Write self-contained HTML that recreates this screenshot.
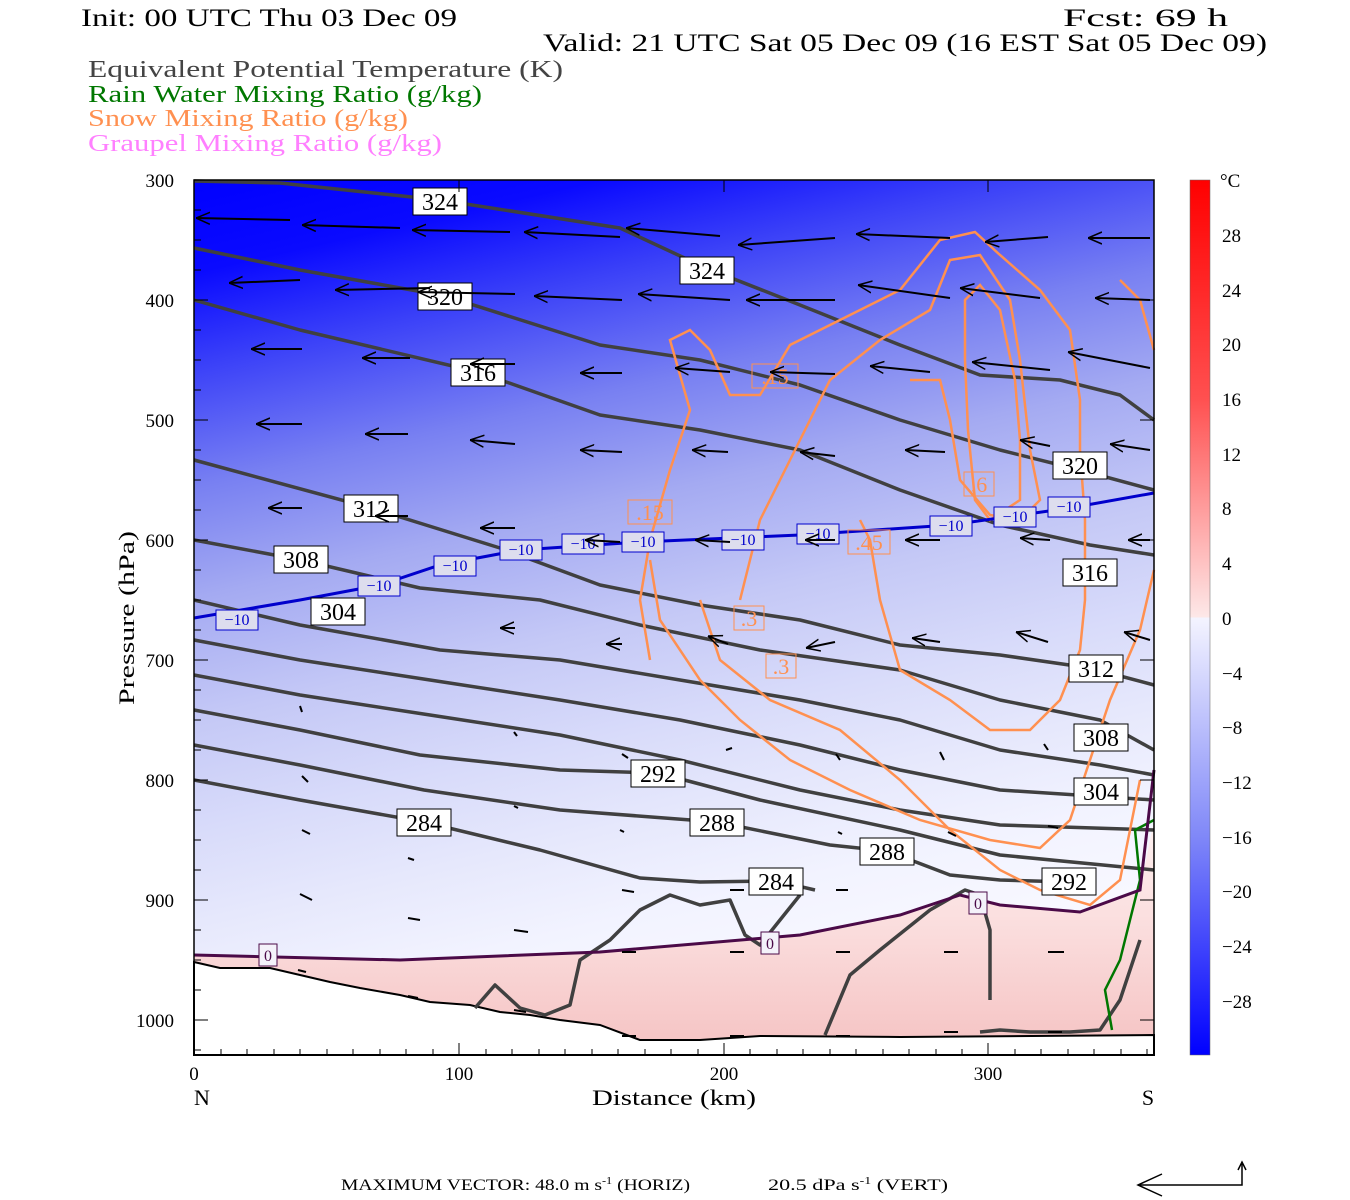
<!DOCTYPE html>
<html><head><meta charset="utf-8"><style>
body{margin:0;background:#fff;}
svg{display:block;}
text{font-family:"Liberation Serif",serif;}
</style></head><body>
<svg width="1350" height="1200" viewBox="0 0 1350 1200" xmlns="http://www.w3.org/2000/svg">
<defs>
<linearGradient id="bg" x1="0" y1="0" x2="0.25" y2="1">
<stop offset="0" stop-color="#0000ff"/>
<stop offset="0.1" stop-color="#0a0aff"/>
<stop offset="0.2" stop-color="#3a40f8"/>
<stop offset="0.33" stop-color="#7880f2"/>
<stop offset="0.45" stop-color="#a4aaf2"/>
<stop offset="0.58" stop-color="#c4c8f6"/>
<stop offset="0.7" stop-color="#d8dbfa"/>
<stop offset="0.8" stop-color="#e6e8fc"/>
<stop offset="0.9" stop-color="#f2f3ff"/>
<stop offset="1" stop-color="#f8f8ff"/>
</linearGradient>
<linearGradient id="pk" x1="0" y1="0" x2="0" y2="1">
<stop offset="0" stop-color="#fdf0f0"/>
<stop offset="0.4" stop-color="#fbe0e0"/>
<stop offset="1" stop-color="#f5c2c2"/>
</linearGradient>
<linearGradient id="cb" x1="0" y1="0" x2="0" y2="1">
<stop offset="0" stop-color="#ff0000"/>
<stop offset="0.25" stop-color="#ff5050"/>
<stop offset="0.5" stop-color="#fde8e8"/>
<stop offset="0.5" stop-color="#f4f4ff"/>
<stop offset="0.75" stop-color="#8088f8"/>
<stop offset="1" stop-color="#0000ff"/>
</linearGradient>
<marker id="ah" markerWidth="14" markerHeight="14" refX="0" refY="7" orient="auto" markerUnits="userSpaceOnUse"><path d="M14,1 L0,7 L14,13" fill="none" stroke="#000" stroke-width="1.5"/></marker>
</defs>

<!-- header -->
<text x="81" y="26" font-size="25" fill="#000" textLength="376" lengthAdjust="spacingAndGlyphs">Init: 00 UTC Thu 03 Dec 09</text>
<text x="1063" y="26" font-size="25" fill="#000" textLength="165" lengthAdjust="spacingAndGlyphs">Fcst:   69 h</text>
<text x="543" y="51" font-size="25" fill="#000" textLength="724" lengthAdjust="spacingAndGlyphs">Valid: 21 UTC Sat 05 Dec 09 (16 EST Sat 05 Dec 09)</text>
<text x="88" y="77" font-size="24" fill="#444" textLength="475" lengthAdjust="spacingAndGlyphs">Equivalent Potential Temperature (K)</text>
<text x="88" y="102" font-size="24" fill="#007700" textLength="394" lengthAdjust="spacingAndGlyphs">Rain Water Mixing Ratio (g/kg)</text>
<text x="88" y="126" font-size="24" fill="#ff9050" textLength="320" lengthAdjust="spacingAndGlyphs">Snow Mixing Ratio (g/kg)</text>
<text x="88" y="151" font-size="24" fill="#ff80ff" textLength="354" lengthAdjust="spacingAndGlyphs">Graupel Mixing Ratio (g/kg)</text>

<!-- plot background -->
<rect x="194" y="180" width="960" height="875" fill="url(#bg)"/>
<path d="M194,955 L400,960 L600,952 L800,935 L900,915 L960,895 L1000,905 L1080,912 L1140,890 L1154,820 L1154,1055 L194,1055 Z" fill="url(#pk)"/>
<!-- terrain -->
<path d="M194,962 L220,968 L270,968 L300,975 L330,982 L360,988 L400,995 L430,1002 L470,1005 L500,1012 L530,1015 L560,1020 L600,1025 L640,1040 L700,1040 L760,1036 L900,1037 L1154,1035 L1154,1055 L194,1055 Z" fill="#fff" stroke="#000" stroke-width="2"/>

<g fill="none" stroke="#404040" stroke-width="3.5" stroke-linejoin="round">
<path d="M194,181 L280,183 L440,200 L620,228 L706,268 L800,305 L900,345 L980,375 L1060,380 L1120,395 L1154,420"/>
<path d="M194,248 L300,270 L445,296 L600,345 L700,360 L800,385 L900,420 L1000,450 L1080,470 L1154,490"/>
<path d="M194,300 L300,330 L478,372 L600,415 L700,430 L800,450 L900,490 L1000,525 L1090,545 L1154,555"/>
<path d="M194,460 L371,508 L500,548 L600,585 L700,605 L800,620 L900,645 L1000,655 L1090,668 L1154,685"/>
<path d="M194,540 L301,560 L420,588 L540,600 L640,625 L760,650 L900,670 L1000,700 L1100,720 L1154,750"/>
<path d="M194,600 L300,625 L440,650 L560,660 L680,680 L800,700 L900,720 L1000,750 L1100,765 L1154,775"/>
<path d="M194,640 L300,660 L430,680 L560,700 L680,720 L800,745 L900,770 L1000,790 L1154,800"/>
<path d="M194,675 L300,695 L430,715 L560,735 L680,760 L800,790 L900,810 L1000,825 L1154,830"/>
<path d="M194,710 L300,730 L420,755 L560,770 L658,773 L760,800 L900,830 L1000,855 L1154,870"/>
<path d="M194,745 L300,765 L424,790 L560,810 L717,822 L830,845 L887,851 L950,875 L1000,880 L1070,882"/>
<path d="M194,780 L300,800 L424,822 L540,850 L640,878 L700,882 L776,881 L815,890"/>
<path d="M475,1008 L495,985 L520,1008 L545,1015 L570,1005 L580,960 L610,940 L640,910 L670,895 L700,905 L730,900 L745,935 L760,945 L780,920 L800,895"/>
<path d="M825,1035 L850,975 L880,950 L930,910 L965,890 L980,895 L990,930 L990,1000"/>
<path d="M980,1032 L1000,1030 L1030,1032 L1070,1032 L1100,1030 L1120,1000 L1140,940"/>
</g>

<!-- snow contours -->
<g fill="none" stroke="#ff9050" stroke-width="2.5">
<path d="M650,660 L640,600 L650,540 L670,470 L690,410 L670,340 L690,330 L710,350 L730,395 L760,395 L790,345 L840,320 L900,290 L940,240 L975,232 L1000,255 L1040,290 L1070,330 L1080,400 L1080,450 L1085,520 L1085,600 L1080,650 L1060,700 L1030,730 L990,730 L950,700 L900,670 L880,600 L870,540 L860,520"/>
<path d="M740,600 L760,520 L800,440 L830,380 L880,340 L930,310 L950,260 L980,255 L1010,300 L1020,360 L1030,450 L1040,500 L1020,520 L990,515 L960,480 L950,420 L940,380 L910,380"/>
<path d="M965,300 L980,285 L1000,310 L1015,380 L1020,440 L1020,500 L990,520 L975,500 L968,430 L965,360 Z"/>
<path d="M650,560 L660,620 L700,680 L740,720 L790,760 L850,790 L920,820 L990,840 L1040,848 L1070,820 L1090,760 L1110,700 L1140,630 L1154,570"/>
<path d="M700,600 L720,660 L770,700 L840,730 L900,780 L950,830 L1000,870 L1040,890 L1090,905 L1120,880 L1140,780"/>
<path d="M1154,350 L1140,300 L1120,280"/>
</g>
<!-- rain -->
<path d="M1112,1030 L1105,990 L1120,960 L1130,920 L1140,880 L1135,830 L1154,820" fill="none" stroke="#007700" stroke-width="2.5"/>
<!-- -10 isotherm -->
<path d="M194,618 L300,600 L380,585 L440,565 L520,550 L640,542 L800,535 L950,525 L1070,508 L1154,493" fill="none" stroke="#0000cc" stroke-width="3"/>
<!-- 0 isotherm -->
<path d="M194,955 L400,960 L600,952 L800,935 L900,915 L960,895 L1000,905 L1080,912 L1140,890 L1154,770" fill="none" stroke="#4b0a48" stroke-width="3"/>

<!-- -10 labels -->
<g font-size="16" fill="#0000cc" text-anchor="middle">
<g stroke="#0000cc" stroke-width="1" fill="#dde">
<rect x="216" y="610" width="42" height="20"/><rect x="358" y="576" width="42" height="20"/><rect x="434" y="556" width="42" height="20"/><rect x="500" y="540" width="42" height="20"/><rect x="562" y="534" width="42" height="20"/><rect x="622" y="532" width="42" height="20"/><rect x="722" y="530" width="42" height="20"/><rect x="797" y="524" width="42" height="20"/><rect x="930" y="516" width="42" height="20"/><rect x="994" y="507" width="42" height="20"/><rect x="1048" y="497" width="42" height="20"/>
</g>
<text x="237" y="625">−10</text><text x="379" y="591">−10</text><text x="455" y="571">−10</text><text x="521" y="555">−10</text><text x="583" y="549">−10</text><text x="643" y="547">−10</text><text x="743" y="545">−10</text><text x="818" y="539">−10</text><text x="951" y="531">−10</text><text x="1015" y="522">−10</text><text x="1069" y="512">−10</text>
</g>
<!-- 0 labels -->
<g font-size="16" fill="#4b0a48" text-anchor="middle">
<rect x="259" y="944" width="18" height="22" fill="#f4f2fa" stroke="#4b0a48"/><text x="268" y="961">0</text>
<rect x="761" y="932" width="18" height="22" fill="#f4f2fa" stroke="#4b0a48"/><text x="770" y="949">0</text>
<rect x="969" y="892" width="18" height="22" fill="#f4f2fa" stroke="#4b0a48"/><text x="978" y="909">0</text>
</g>
<!-- snow labels -->
<g font-size="22" fill="#ff9050" text-anchor="middle">
<rect x="752" y="364" width="46" height="24" fill="none" stroke="#ff9050"/><text x="775" y="384">.15</text>
<rect x="628" y="500" width="44" height="24" fill="none" stroke="#ff9050"/><text x="650" y="520">.15</text>
<rect x="734" y="606" width="30" height="24" fill="none" stroke="#ff9050"/><text x="749" y="626">.3</text>
<rect x="766" y="654" width="30" height="24" fill="none" stroke="#ff9050"/><text x="781" y="674">.3</text>
<rect x="964" y="472" width="30" height="24" fill="none" stroke="#ff9050"/><text x="979" y="492">.6</text>
<rect x="848" y="530" width="42" height="24" fill="none" stroke="#ff9050"/><text x="869" y="550">.45</text>
</g>
<!-- theta-e labels -->
<g font-size="24" fill="#000" text-anchor="middle">
<g fill="#fff" stroke="#000" stroke-width="1">
<rect x="413" y="188" width="54" height="27"/><rect x="680" y="257" width="54" height="27"/><rect x="418" y="283" width="54" height="27"/><rect x="451" y="359" width="54" height="27"/><rect x="1053" y="452" width="54" height="27"/><rect x="344" y="495" width="54" height="27"/><rect x="274" y="546" width="54" height="27"/><rect x="1063" y="559" width="54" height="27"/><rect x="311" y="598" width="54" height="27"/><rect x="1069" y="655" width="54" height="27"/><rect x="1074" y="724" width="54" height="27"/><rect x="1074" y="778" width="54" height="27"/><rect x="631" y="760" width="54" height="27"/><rect x="397" y="809" width="54" height="27"/><rect x="690" y="809" width="54" height="27"/><rect x="860" y="838" width="54" height="27"/><rect x="749" y="868" width="54" height="27"/><rect x="1042" y="868" width="54" height="27"/>
</g>
<text x="440" y="210">324</text><text x="707" y="279">324</text><text x="445" y="305">320</text><text x="478" y="381">316</text><text x="1080" y="474">320</text><text x="371" y="517">312</text><text x="301" y="568">308</text><text x="1090" y="581">316</text><text x="338" y="620">304</text><text x="1096" y="677">312</text><text x="1101" y="746">308</text><text x="1101" y="800">304</text><text x="658" y="782">292</text><text x="424" y="831">284</text><text x="717" y="831">288</text><text x="887" y="860">288</text><text x="776" y="890">284</text><text x="1069" y="890">292</text>
</g>

<!-- wind vectors -->
<g stroke="#000" stroke-width="2" marker-start="url(#ah)">
<path d="M196,218 L290,220"/><path d="M302,225 L400,228"/><path d="M412,230 L510,232"/><path d="M524,232 L620,237"/><path d="M626,228 L720,236"/><path d="M738,245 L835,238"/><path d="M856,234 L950,238"/><path d="M985,242 L1048,237"/><path d="M1088,238 L1150,238"/>
<path d="M229,283 L300,280"/><path d="M335,290 L430,288"/><path d="M418,292 L515,294"/><path d="M534,296 L622,300"/><path d="M638,294 L730,300"/><path d="M746,300 L835,300"/><path d="M858,285 L950,298"/><path d="M960,288 L1040,298"/><path d="M1095,298 L1150,300"/>
<path d="M251,349 L302,349"/><path d="M362,358 L410,358"/><path d="M470,364 L515,364"/><path d="M580,373 L622,373"/><path d="M675,368 L730,372"/><path d="M770,372 L835,374"/><path d="M870,366 L930,372"/><path d="M972,362 L1050,370"/><path d="M1068,352 L1150,368"/>
<path d="M256,424 L302,424"/><path d="M365,434 L408,434"/><path d="M470,440 L515,444"/><path d="M580,450 L622,452"/><path d="M692,450 L728,452"/><path d="M800,452 L835,456"/><path d="M905,450 L945,452"/><path d="M1020,440 L1050,446"/><path d="M1110,444 L1150,450"/>
<path d="M268,508 L302,508"/><path d="M375,516 L408,516"/><path d="M480,528 L515,528"/><path d="M585,540 L620,542"/><path d="M695,540 L730,542"/><path d="M805,540 L835,540"/><path d="M905,540 L940,540"/><path d="M1020,538 L1050,540"/><path d="M1128,540 L1150,540"/>
<path d="M500,628 L515,628"/><path d="M606,644 L622,644"/><path d="M708,636 L728,644"/><path d="M806,648 L835,642"/><path d="M912,638 L940,642"/><path d="M1016,632 L1048,642"/><path d="M1124,632 L1150,640"/>
</g>
<g stroke="#000" stroke-width="2">
<path d="M300,706 L302,712"/><path d="M514,732 L517,736"/><path d="M726,750 L732,748"/><path d="M836,754 L840,760"/><path d="M940,752 L944,760"/><path d="M1044,744 L1048,750"/><path d="M302,776 L308,782"/><path d="M514,806 L518,808"/><path d="M622,754 L628,758"/><path d="M302,830 L310,834"/><path d="M620,830 L624,832"/><path d="M838,832 L842,834"/><path d="M948,832 L956,836"/><path d="M1048,826 L1058,828"/><path d="M408,858 L414,860"/><path d="M300,894 L312,900"/><path d="M408,918 L420,920"/><path d="M514,930 L528,932"/><path d="M622,890 L634,892"/><path d="M730,890 L744,890"/><path d="M836,890 L848,890"/><path d="M298,970 L306,972"/><path d="M408,996 L418,998"/><path d="M514,1010 L526,1012"/><path d="M622,952 L636,952"/><path d="M730,952 L744,952"/><path d="M836,952 L850,952"/><path d="M944,952 L958,952"/><path d="M1048,952 L1064,952"/><path d="M622,1036 L636,1036"/><path d="M730,1036 L744,1036"/><path d="M836,1036 L850,1036"/><path d="M944,1032 L958,1032"/><path d="M1048,1032 L1062,1032"/>
</g>

<!-- frame & ticks -->
<rect x="194" y="180" width="960" height="875" fill="none" stroke="#000" stroke-width="1.5"/>
<g stroke="#000" stroke-width="1">
<path d="M194,180 h14 M194,300 h14 M194,420 h14 M194,540 h14 M194,660 h14 M194,780 h14 M194,900 h14 M194,1020 h14"/>
<path d="M194,210 h7 M194,240 h7 M194,270 h7 M194,330 h7 M194,360 h7 M194,390 h7 M194,450 h7 M194,480 h7 M194,510 h7 M194,570 h7 M194,600 h7 M194,630 h7 M194,690 h7 M194,720 h7 M194,750 h7 M194,810 h7 M194,840 h7 M194,870 h7 M194,930 h7 M194,960 h7 M194,990 h7 M194,1050 h7"/>
<path d="M1154,180 h-14 M1154,300 h-14 M1154,420 h-14 M1154,540 h-14 M1154,660 h-14 M1154,780 h-14 M1154,900 h-14 M1154,1020 h-14"/>
<path d="M459,1055 v-12 M724,1055 v-12 M988,1055 v-12 M459,180 v12 M724,180 v12 M988,180 v12"/>
<path d="M221,1055 v-6 M247,1055 v-6 M274,1055 v-6 M300,1055 v-6 M327,1055 v-6 M353,1055 v-6 M380,1055 v-6 M406,1055 v-6 M433,1055 v-6 M486,1055 v-6 M512,1055 v-6 M539,1055 v-6 M565,1055 v-6 M592,1055 v-6 M618,1055 v-6 M645,1055 v-6 M671,1055 v-6 M698,1055 v-6 M750,1055 v-6 M777,1055 v-6 M803,1055 v-6 M830,1055 v-6 M856,1055 v-6 M883,1055 v-6 M909,1055 v-6 M936,1055 v-6 M962,1055 v-6 M1015,1055 v-6 M1041,1055 v-6 M1068,1055 v-6 M1094,1055 v-6 M1121,1055 v-6 M1147,1055 v-6"/>
</g>
<g font-size="19" fill="#000" text-anchor="end">
<text x="174" y="187">300</text><text x="174" y="307">400</text><text x="174" y="427">500</text><text x="174" y="547">600</text><text x="174" y="667">700</text><text x="174" y="787">800</text><text x="174" y="907">900</text><text x="174" y="1027">1000</text>
</g>
<text transform="translate(134,618) rotate(-90)" font-size="22" text-anchor="middle" fill="#000" textLength="174" lengthAdjust="spacingAndGlyphs">Pressure (hPa)</text>
<g font-size="19" fill="#000" text-anchor="middle">
<text x="194" y="1080">0</text><text x="459" y="1080">100</text><text x="724" y="1080">200</text><text x="988" y="1080">300</text>
</g>
<text x="202" y="1105" font-size="22" text-anchor="middle">N</text>
<text x="1148" y="1105" font-size="22" text-anchor="middle">S</text>
<text x="592" y="1105" font-size="22" textLength="164" lengthAdjust="spacingAndGlyphs">Distance (km)</text>

<!-- colorbar -->
<rect x="1190" y="180" width="20" height="875" fill="url(#cb)" stroke="#666" stroke-width="0.5"/>
<g font-size="19" fill="#000">
<text x="1220" y="187">°C</text>
<text x="1222" y="242">28</text><text x="1222" y="297">24</text><text x="1222" y="351">20</text><text x="1222" y="406">16</text><text x="1222" y="461">12</text><text x="1222" y="515">8</text><text x="1222" y="570">4</text><text x="1222" y="625">0</text><text x="1222" y="680">−4</text><text x="1222" y="734">−8</text><text x="1222" y="789">−12</text><text x="1222" y="844">−16</text><text x="1222" y="898">−20</text><text x="1222" y="953">−24</text><text x="1222" y="1008">−28</text>
</g>

<!-- footer -->
<text x="341" y="1190" font-size="16" fill="#000" textLength="349" lengthAdjust="spacingAndGlyphs">MAXIMUM VECTOR:  48.0 m s<tspan font-size="10" dy="-6">-1</tspan><tspan dy="6"> (HORIZ)</tspan></text>
<text x="768" y="1190" font-size="16" fill="#000" textLength="180" lengthAdjust="spacingAndGlyphs">20.5 dPa s<tspan font-size="10" dy="-6">-1</tspan><tspan dy="6"> (VERT)</tspan></text>
<path d="M1138,1185 L1242,1185 L1242,1164" fill="none" stroke="#000" stroke-width="1.5"/>
<path d="M1162,1174 L1138,1185 L1162,1196 M1238,1170 L1242,1162 L1246,1170" fill="none" stroke="#000" stroke-width="1.5"/>
</svg>
</body></html>
